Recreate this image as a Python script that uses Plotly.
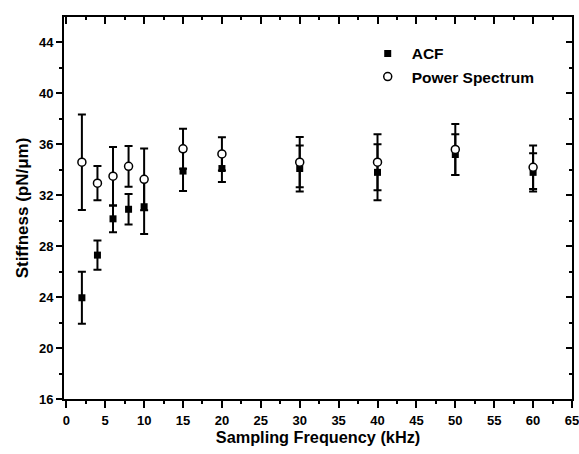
import plotly.graph_objects as go

# Sampling frequency (kHz)
freq = [2, 4, 6, 8, 10, 15, 20, 30, 40, 50, 60]

# Trap stiffness from autocorrelation fit (pN/um) and its error
acf_k = [23.95, 27.3, 30.15, 30.9, 31.1, 33.9, 34.1, 34.1, 33.8, 35.2, 33.8]
acf_err = [2.05, 1.15, 1.05, 1.2, 2.15, 1.57, 1.05, 1.8, 2.2, 1.6, 1.5]

# Trap stiffness from power spectrum fit (pN/um) and its error
ps_k = [34.6, 32.95, 33.5, 34.27, 33.25, 35.65, 35.25, 34.6, 34.6, 35.6, 34.2]
ps_err = [3.75, 1.35, 2.3, 1.6, 2.42, 1.57, 1.3, 1.97, 2.2, 2.0, 1.7]

x_range = [-0.3, 65]
y_range = [16, 46]

fig = go.Figure()

fig.add_trace(go.Scatter(
    x=freq, y=acf_k, name="ACF", mode="markers",
    marker=dict(symbol="square", size=7, color="black"),
    error_y=dict(type="data", array=acf_err, visible=True,
                 color="black", thickness=2, width=4),
))
fig.add_trace(go.Scatter(
    x=freq, y=ps_k, name="Power Spectrum", mode="markers",
    marker=dict(symbol="circle", size=8, color="white",
                line=dict(color="black", width=1.5)),
    error_y=dict(type="data", array=ps_err, visible=True,
                 color="black", thickness=2, width=4),
))
# carrier for the top/right frame axes
fig.add_trace(go.Scatter(x=[], y=[], xaxis="x2", yaxis="y2",
                         showlegend=False, hoverinfo="skip"))

font_family = "Arial, Liberation Sans"
tick_font = dict(family=font_family, size=13, color="black", weight="bold")
xtitle_font = dict(family=font_family, size=16.3, color="black", weight="bold")
ytitle_font = dict(family=font_family, size=17, color="black", weight="bold")

fig.update_layout(
    width=579, height=454,
    margin=dict(l=64, r=7, t=17, b=55, autoexpand=False),
    paper_bgcolor="white", plot_bgcolor="white",
    showlegend=True,
    legend=dict(x=0.59, y=0.948, xanchor="left", yanchor="top",
                itemwidth=38, bgcolor="rgba(0,0,0,0)",
                font=dict(family=font_family, size=15.5, color="black", weight="bold")),
    xaxis=dict(
        range=x_range, tickmode="array", tickvals=list(range(0, 66, 5)),
        ticks="outside", ticklen=7, tickwidth=2, tickcolor="black",
        ticklabelstandoff=1, ticklabeloverflow="allow", automargin=False,
        showline=True, linewidth=2, linecolor="black", showgrid=False, zeroline=False,
        tickfont=tick_font,
        minor=dict(tickmode="array", tickvals=[2.5 + 5 * i for i in range(13)],
                   ticks="outside", ticklen=3, tickwidth=1.5, tickcolor="black"),
        title=dict(text="Sampling Frequency (kHz)", font=xtitle_font, standoff=2),
    ),
    yaxis=dict(
        range=y_range, tickmode="array", tickvals=list(range(16, 45, 4)),
        ticks="outside", ticklen=6, tickwidth=2, tickcolor="black",
        automargin=False,
        showline=True, linewidth=2, linecolor="black", showgrid=False, zeroline=False,
        tickfont=tick_font,
        minor=dict(tickmode="array", tickvals=list(range(18, 46, 4)),
                   ticks="outside", ticklen=3, tickwidth=1.5, tickcolor="black"),
        title=dict(text="Stiffness (pN/\u03bcm)", font=ytitle_font, standoff=6),
    ),
    xaxis2=dict(
        overlaying="x", side="top", anchor="y", range=x_range,
        tickmode="array", tickvals=list(range(0, 66, 5)),
        ticks="inside", ticklen=7, tickwidth=2, tickcolor="black",
        showline=True, linewidth=2, linecolor="black", showgrid=False, zeroline=False,
        showticklabels=False,
        minor=dict(tickmode="array", tickvals=[2.5 + 5 * i for i in range(13)],
                   ticks="inside", ticklen=3, tickwidth=1.5, tickcolor="black"),
    ),
    yaxis2=dict(
        overlaying="y", side="right", anchor="x", range=y_range,
        tickmode="array", tickvals=list(range(16, 45, 4)),
        ticks="inside", ticklen=6, tickwidth=2, tickcolor="black",
        showline=True, linewidth=2, linecolor="black", showgrid=False, zeroline=False,
        showticklabels=False,
        minor=dict(tickmode="array", tickvals=list(range(18, 46, 4)),
                   ticks="inside", ticklen=3, tickwidth=1.5, tickcolor="black"),
    ),
)

fig.write_html("out.html")
